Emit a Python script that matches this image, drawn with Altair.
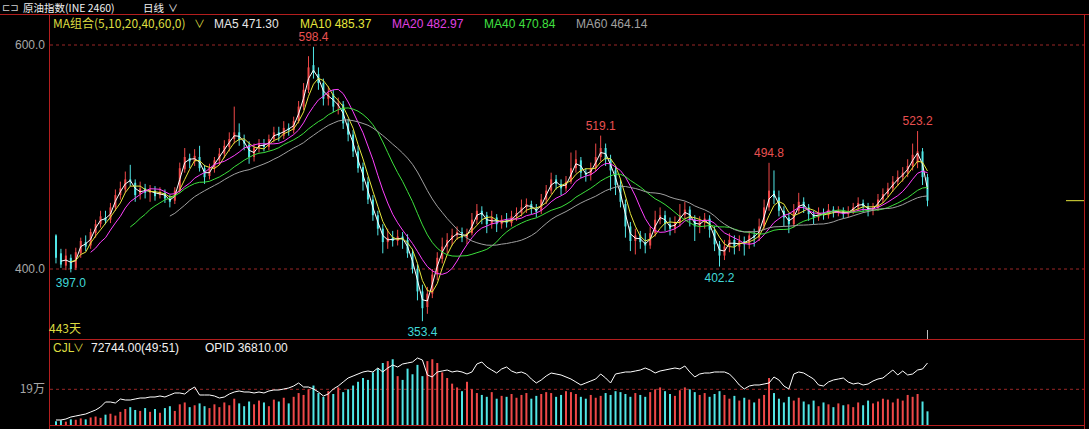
import altair as alt
import pandas as pd

# ---------------- data (each bar ~2.5 trading days) ----------------
OPEN = [430,414,403,410,401,414,424,421,432,440,446,444,455,466,471,480,477,467,472,468,
        470,466,468,463,461,470,489,499,496,500,490,483,490,497,503,509,516,522,515,511,
        500,508,511,509,516,522,519,526,524,532,545,560,582,574,566,552,556,546,547,530,
        520,505,491,478,462,448,436,424,428,425,429,426,414,400,380,366,378,395,409,420,
        426,430,433,428,432,444,452,448,440,446,440,444,441,447,450,455,458,454,452,462,
        470,480,476,472,478,490,497,486,484,490,500,508,498,488,475,458,438,425,430,424,
        421,432,444,448,440,436,442,448,453,444,438,442,445,435,422,412,420,426,420,425,
        422,430,428,438,455,470,464,452,446,440,452,460,455,449,446,450,448,453,450,452,
        449,452,455,459,456,452,455,462,467,472,478,482,486,492,495,505,482]
CLOSE = [410,404,412,400,415,425,420,433,440,447,443,455,466,472,480,478,466,472,468,471,
         465,469,463,460,470,490,500,496,501,490,482,490,497,503,510,516,522,515,512,500,
         508,512,509,516,522,519,526,524,532,545,560,580,575,566,552,557,545,548,530,520,
         505,490,478,462,448,436,424,428,425,429,426,414,400,380,365,378,395,410,420,426,
         430,433,428,432,444,452,448,440,446,440,444,441,447,450,455,458,454,451,462,470,
         480,476,472,478,490,498,486,484,490,500,508,498,488,475,460,438,425,430,424,421,
         432,444,448,440,436,442,448,453,444,438,442,445,435,422,412,420,426,420,425,422,
         430,428,438,455,470,464,452,446,440,452,460,455,449,446,450,448,453,450,452,449,
         452,455,459,456,452,455,462,467,472,478,482,486,492,502,505,482,461]
HIGH = [431,418,418,413,419,428,430,436,444,452,452,459,471,478,487,493,480,478,476,475,
        474,473,471,466,473,495,508,503,507,510,493,494,500,508,515,522,545,530,520,514,
        512,516,516,520,527,527,532,530,536,550,566,590,598.4,580,570,563,560,553,550,534,
        524,510,495,482,466,452,440,436,434,435,433,431,418,404,386,384,400,415,428,432,
        436,438,437,436,450,458,456,451,452,449,448,450,452,455,462,463,461,458,467,475,
        486,484,480,483,504,506,500,490,495,512,519.1,512,502,492,480,462,442,436,434,432,
        438,452,455,452,446,447,458,460,456,448,447,450,448,438,425,426,432,430,430,429,
        434,436,445,462,494.8,488,470,456,450,458,468,464,458,452,455,454,458,456,456,455,
        456,459,464,462,459,459,467,472,477,483,488,491,498,512,523.2,508,485]
LOW = [405,401,399,397.0,399,410,416,418,428,437,440,441,452,462,468,474,460,462,463,460,
       461,463,459,455,458,468,486,490,492,487,476,480,486,493,499,505,512,510,506,494,
       496,504,505,506,513,514,516,519,521,530,542,557,570,560,546,546,540,538,525,514,
       500,486,470,458,443,430,414,418,420,421,418,410,396,372,353.4,360,374,390,405,414,
       421,426,424,422,430,440,440,432,436,433,436,437,438,443,447,450,449,446,449,458,
       467,471,466,469,476,486,481,478,479,487,496,492,470,466,455,428,416,413,418,414,
       418,429,440,434,430,432,438,445,438,425,432,436,428,416,402.2,408,415,413,416,412,
       418,420,425,435,452,458,447,438,432,437,449,450,443,440,443,444,445,446,447,445,
       446,449,452,451,447,448,452,459,464,469,474,478,482,488,490,475,456]
VOLUME = [20000,25000,18000,30000,28000,35000,30000,40000,45000,38000,
          55000,60000,50000,70000,85000,95000,80000,75000,90000,70000,
          85000,65000,90000,100000,75000,110000,120000,95000,105000,115000,
          100000,90000,110000,95000,120000,105000,140000,115000,100000,125000,
          110000,130000,120000,100000,135000,125000,145000,115000,150000,170000,
          160000,190000,210000,170000,150000,180000,165000,200000,175000,190000,
          210000,230000,250000,240000,280000,300000,330000,340000,350000,260000,
          240000,300000,270000,320000,260000,340000,350000,330000,280000,250000,
          220000,200000,180000,230000,190000,170000,160000,150000,175000,140000,
          155000,150000,165000,145000,160000,170000,140000,155000,165000,175000,
          170000,150000,160000,180000,175000,165000,150000,140000,160000,145000,
          155000,170000,160000,180000,175000,165000,150000,170000,160000,150000,
          175000,190000,200000,180000,165000,155000,185000,200000,190000,175000,
          160000,170000,150000,165000,180000,160000,140000,155000,130000,145000,
          135000,120000,140000,160000,250000,170000,140000,120000,150000,130000,
          145000,125000,110000,130000,100000,120000,110000,95000,115000,105000,
          110000,95000,120000,105000,130000,115000,125000,140000,135000,120000,
          140000,130000,160000,150000,165000,125000,72744]
OPID = [2970,2970,3560,4750,5340,5940,6530,7720,8900,10690,
        13650,13650,13060,15440,14840,14840,15440,16030,16030,16620,
        16620,17220,16620,17810,19000,19000,18400,20780,22560,17810,
        17810,17810,17220,16030,16620,18400,19590,20190,19590,19590,
        19000,19590,19000,20190,20780,20780,21370,21970,23150,24940,
        22560,22560,21370,19590,17220,18400,21370,23150,25530,27900,
        29090,30280,31470,32060,31470,33840,31470,33840,35620,34430,
        36220,36810,37400,39780,38590,29690,28500,31470,32060,32650,
        31470,32060,31470,30280,31470,36220,37400,34430,32650,30870,
        33250,34430,32060,30870,31470,30280,27310,24940,26720,29090,
        30870,30280,29690,28500,27310,25530,23750,24940,26120,27310,
        30280,27900,24940,30280,30870,31470,31470,32060,32650,33840,
        32650,30870,32060,32650,33250,33840,33250,35030,31470,28500,
        30280,30870,30870,31470,31470,31470,30280,27310,23750,21370,
        23150,23750,23750,24340,24940,28500,26720,23150,21370,30280,
        31470,30870,29090,27310,23750,23150,25530,26720,27310,27900,
        25530,24340,24940,23750,24340,26120,27310,27900,30280,32650,
        29690,32060,29690,30280,32650,33250,36810]

HIGH_MARKS = [52, 110, 144, 174]
LOW_MARKS = [3, 74, 134]
GRID_PRICES = [400, 600]
GRID_VOL = [190000]
GRID_VOL_LABEL = ["19万"]

# MA periods in days and the equivalent number of drawn bars
MA_DEFS = [("MA5", 2, "#ffffff"), ("MA10", 4, "#e6e63c"), ("MA20", 8, "#ff40ff"),
           ("MA40", 16, "#3ce03c"), ("MA60", 24, "#a0a0a0")]

RED = "#f04848"
CYAN = "#50e6e6"
BORDER = "#b41e1e"
GRIDC = "#9a2626"
CJK = "Noto Sans CJK SC"
LAT = "Liberation Sans"

df = pd.DataFrame({"i": list(range(len(CLOSE))), "open": OPEN, "high": HIGH, "low": LOW,
                   "close": CLOSE, "vol": VOLUME, "opid": OPID})

W, H = 1036, 413
X = alt.X("i:Q", scale=alt.Scale(domain=[-0.4, 206.8], nice=False, zero=False), axis=None)
PS = alt.Scale(domain=[258.93, 627.68], nice=False, zero=False)
VS = alt.Scale(domain=[-10644, 2187395], nice=False, zero=False)
OS = alt.Scale(domain=[-1187, 244011], nice=False, zero=False)

base = alt.Chart(df).transform_calculate(dir="datum.close >= datum.open ? 'up' : 'down'")
color = alt.Color("dir:N", scale=alt.Scale(domain=["up", "down"], range=[RED, CYAN]), legend=None)

layers = []

# grid lines
layers.append(alt.Chart(pd.DataFrame({"p": GRID_PRICES})).mark_rule(
    color=GRIDC, strokeDash=[3, 3], strokeWidth=1).encode(y=alt.Y("p:Q", scale=PS, axis=None)))
layers.append(alt.Chart(pd.DataFrame({"v": GRID_VOL})).mark_rule(
    color=GRIDC, strokeDash=[3, 3], strokeWidth=1).encode(y=alt.Y("v:Q", scale=VS, axis=None)))
layers.append(alt.Chart(pd.DataFrame({"p": GRID_PRICES})).mark_text(
    align="right", baseline="middle", color="#a8a8a8", font=LAT, fontSize=12).encode(
    y=alt.Y("p:Q", scale=PS, axis=None), x=alt.value(-4), text=alt.Text("p:Q", format=".1f")))
layers.append(alt.Chart(pd.DataFrame({"v": GRID_VOL, "lab": GRID_VOL_LABEL})).mark_text(
    align="right", baseline="middle", color="#a8a8a8", font=CJK, fontSize=12).encode(
    y=alt.Y("v:Q", scale=VS, axis=None), x=alt.value(-4), text="lab:N"))

# candles
layers.append(base.mark_rule(strokeWidth=1).encode(
    x=X, y=alt.Y("low:Q", scale=PS, axis=None), y2="high:Q", color=color))
layers.append(base.mark_bar(size=2).encode(
    x=X, y=alt.Y("open:Q", scale=PS, axis=None), y2="close:Q", color=color))

# moving averages
for name, w, c in MA_DEFS:
    layers.append(alt.Chart(df).transform_window(
        ma="mean(close)", frame=[-(w - 1), 0], sort=[alt.SortField("i")]
    ).transform_filter(f"datum.i >= {w - 1}").mark_line(color=c, strokeWidth=1).encode(
        x=X, y=alt.Y("ma:Q", scale=PS, axis=None)))

# volume + OPID
layers.append(base.mark_bar(size=2).encode(
    x=X, y=alt.Y("vol:Q", scale=VS, axis=None), y2=alt.datum(0), color=color))
layers.append(alt.Chart(df).mark_line(color="#ffffff", strokeWidth=1).encode(
    x=X, y=alt.Y("opid:Q", scale=OS, axis=None)))

# extreme labels
hi = df.iloc[HIGH_MARKS]
lo = df.iloc[LOW_MARKS]
layers.append(alt.Chart(hi).mark_text(dy=-10, color="#e85050", font=LAT, fontSize=12,
                                      baseline="middle").encode(
    x=X, y=alt.Y("high:Q", scale=PS, axis=None), text=alt.Text("high:Q", format=".1f")))
layers.append(alt.Chart(lo).mark_text(dy=11, color="#40d8d8", font=LAT, fontSize=12,
                                      baseline="middle").encode(
    x=X, y=alt.Y("low:Q", scale=PS, axis=None), text=alt.Text("low:Q", format=".1f")))

# current price marker and cursor tick
last = df.iloc[[len(df) - 1]]
layers.append(alt.Chart(last).mark_rule(color="#e6e63c", strokeWidth=1).encode(
    y=alt.Y("close:Q", scale=PS, axis=None), x=alt.value(1017), x2=alt.value(1036)))
layers.append(alt.Chart(last).mark_rule(color="#c0c0c0", strokeWidth=1).encode(
    x=X, y=alt.value(316), y2=alt.value(325)))

dummy = pd.DataFrame({"a": [0]})


def hline(y, x1, x2):
    return alt.Chart(dummy).mark_rule(color=BORDER, strokeWidth=1).encode(
        x=alt.value(x1), x2=alt.value(x2), y=alt.value(y))


def vline(x, y1, y2):
    return alt.Chart(dummy).mark_rule(color=BORDER, strokeWidth=1).encode(
        x=alt.value(x), y=alt.value(y1), y2=alt.value(y2))


layers += [hline(0.5, -49, 1040), hline(325.5, 0, W), hline(411.5, 0, W),
           vline(0.5, 0, 415), vline(W - 0.5, 0, 415)]


def label(text, x, y, color, size=12, font=CJK):
    return alt.Chart(pd.DataFrame({"t": [text]})).mark_text(
        align="left", baseline="middle", color=color, fontSize=size, font=font).encode(
        x=alt.value(x), y=alt.value(y), text="t:N")


layers += [
    label("⊏⊐", -47, -6, "#d0d0d0", 10, "DejaVu Sans"),
    label("原油指数(INE 2460)", -26, -5.2, "#f0f0f0", 10.5),
    label("日线", 94, -5.2, "#f0f0f0", 10.5),
    label("∨", 119, -5.2, "#f0f0f0", 10, CJK),
    label("MA组合(5,10,20,40,60,0)", 4, 10, "#dcdc40", 12),
    label("∨", 145, 11, "#dcdc40", 11, CJK),
    label("MA5 471.30", 165, 10, "#e6e6e6", 12, LAT),
    label("MA10 485.37", 251, 10, "#e6e63c", 12, LAT),
    label("MA20 482.97", 343, 10, "#e040e0", 12, LAT),
    label("MA40 470.84", 435, 10, "#40e040", 12, LAT),
    label("MA60 464.14", 527, 10, "#a0a0a0", 12, LAT),
    label("443天", 0, 315, "#dcdc40", 12),
    label("CJL", 4, 334, "#dcdc40", 12, LAT),
    label("∨", 24, 335, "#dcdc40", 11, CJK),
    label("72744.00(49:51)", 42, 334, "#f0f0f0", 12, LAT),
    label("OPID 36810.00", 156, 334, "#f0f0f0", 12, LAT),
]

chart = alt.layer(*layers).resolve_scale(y="independent").properties(
    width=W, height=H,
    padding={"left": 49, "top": 14, "right": 4, "bottom": 2},
    autosize=alt.AutoSizeParams(type="none"),
).configure(background="#000000").configure_view(strokeWidth=0)

chart.save("out.html", embed_options={"renderer": "svg", "actions": False})
